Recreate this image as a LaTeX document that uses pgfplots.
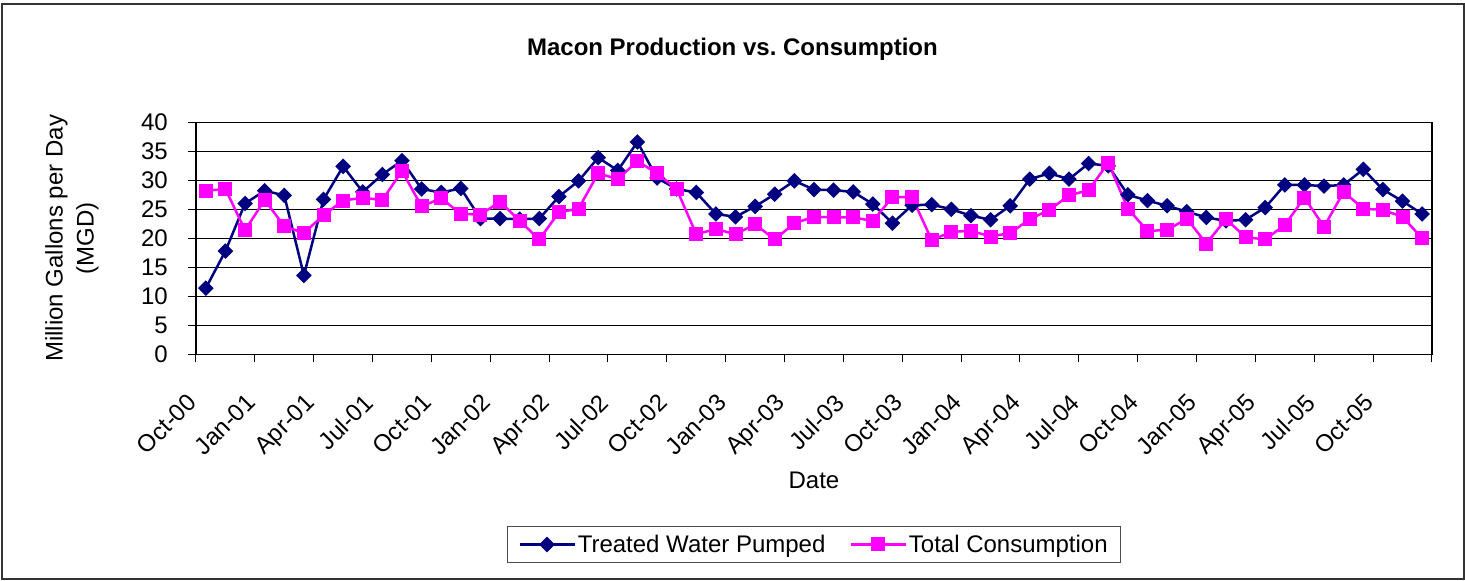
\documentclass[border=0pt]{standalone}
\usepackage{pgfplots}
\pgfplotsset{compat=1.18}
\usepackage{pgfplotstable}
\usepackage{fontspec}
\setmainfont{Liberation Sans}
\definecolor{navyblue}{RGB}{0,0,128}
\definecolor{pinkm}{RGB}{255,0,255}

\pgfplotstableread{
x pumped consumption
0.5 11.4 28.2
1.5 17.8 28.5
2.5 26.0 21.4
3.5 28.2 26.6
4.5 27.4 22.1
5.5 13.6 20.9
6.5 26.7 24.0
7.5 32.4 26.5
8.5 28.0 27.0
9.5 31.0 26.6
10.5 33.4 31.6
11.5 28.5 25.5
12.5 27.9 26.9
13.5 28.6 24.2
14.5 23.4 24.1
15.5 23.4 26.3
16.5 23.3 23.0
17.5 23.4 19.8
18.5 27.2 24.5
19.5 29.9 25.1
20.5 33.9 31.2
21.5 31.7 30.2
22.5 36.6 33.3
23.5 30.4 31.2
24.5 28.5 28.5
25.5 27.9 20.7
26.5 24.2 21.6
27.5 23.7 20.7
28.5 25.5 22.4
29.5 27.6 19.8
30.5 29.9 22.6
31.5 28.4 23.7
32.5 28.3 23.6
33.5 28.0 23.6
34.5 25.9 23.0
35.5 22.6 27.1
36.5 25.7 27.1
37.5 25.8 19.7
38.5 25.0 21.1
39.5 23.9 21.3
40.5 23.2 20.3
41.5 25.6 20.9
42.5 30.2 23.3
43.5 31.2 24.9
44.5 30.2 27.4
45.5 32.9 28.3
46.5 32.5 33.0
47.5 27.5 25.1
48.5 26.5 21.3
49.5 25.6 21.4
50.5 24.6 23.4
51.5 23.6 19.1
52.5 23.0 23.3
53.5 23.2 20.2
54.5 25.3 19.8
55.5 29.2 22.3
56.5 29.2 27.0
57.5 29.0 22.0
58.5 29.2 28.0
59.5 31.9 25.1
60.5 28.4 24.9
61.5 26.4 23.7
62.5 24.2 20.0
}\datatable

\begin{document}
\frenchspacing
\begin{tikzpicture}[x=1pt,y=1pt]
\begin{axis}[
  at={(196pt,226.7pt)}, anchor=south west,
  scale only axis, width=1236pt, height=232pt,
  xmin=0, xmax=63, ymin=0, ymax=40,
  xtick={0,3,...,63},
  xticklabels={Oct-00,Jan-01,Apr-01,Jul-01,Oct-01,Jan-02,Apr-02,Jul-02,Oct-02,Jan-03,Apr-03,Jul-03,Oct-03,Jan-04,Apr-04,Jul-04,Oct-04,Jan-05,Apr-05,Jul-05,Oct-05,{}},
  ytick={0,5,...,40},
  ymajorgrids, grid style={black, line width=1pt},
  axis line style={black, line width=1.2pt},
  tick align=outside, major tick length=8pt,
  xtick pos=bottom, ytick pos=left,
  tick style={black, line width=1pt},
  tick label style={font=\fontsize{24}{28}\selectfont},
  /pgf/number format/assume math mode=true,
  xticklabel style={xshift=-10pt, yshift=-30pt, rotate=45, anchor=north east, inner sep=0pt},
  yticklabel style={anchor=east, inner sep=0pt, xshift=-20pt},
  title={Macon Production vs. Consumption},
  title style={font=\bfseries\fontsize{24}{28}\selectfont, at={(axis description cs:0.434,1.262)}, anchor=base},
  xlabel={Date},
  xlabel style={font=\fontsize{24}{28}\selectfont, at={(axis description cs:0.5,-0.5806)}, anchor=base},
  ylabel={Million Gallons per Day\\(MGD)},
  ylabel style={font=\fontsize{24}{31}\selectfont, align=center, at={(axis description cs:-0.1005,0.5)}, anchor=center},
  legend columns=2,
  legend cell align=left,
  legend style={at={(axis description cs:0.5,-0.8198)}, anchor=center, draw=black!70, line width=1pt,
    font=\fontsize{24}{28}\selectfont, inner xsep=11pt, inner ysep=7pt,
    /tikz/every even column/.append style={column sep=22pt}},
  legend image code/.code={\draw[mark repeat=2, mark phase=2] plot coordinates {(0pt,0pt) (27.5pt,0pt) (55pt,0pt)};},
]
\addplot[navyblue, line width=2.5pt, mark=square*, mark size=5pt, mark options={rotate=45, line width=1pt, fill=navyblue}] table[x=x, y=pumped] {\datatable};
\addlegendentry{Treated Water Pumped}
\addplot[pinkm, line width=2.5pt, mark=square*, mark size=6.5pt, mark options={line width=1pt, fill=pinkm}] table[x=x, y=consumption] {\datatable};
\addlegendentry{Total Consumption}
\end{axis}
\draw[line width=2pt, black!80] (2,1.5) rectangle (1463.5,577);
\path (0,0) rectangle (1465,581);
\end{tikzpicture}
\end{document}
